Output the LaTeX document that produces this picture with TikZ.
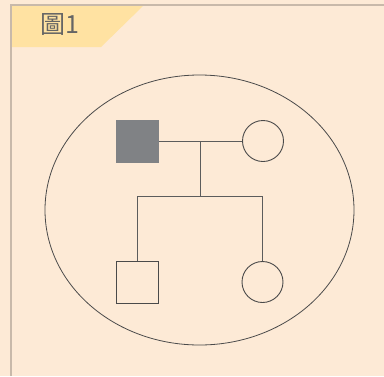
\documentclass[tikz,border=0pt]{standalone}
\usepackage{fontspec}
\newfontfamily\cjktc{Noto Sans CJK TC}
\usepackage{tikz}
\usetikzlibrary{shapes.geometric}
\definecolor{peach}{HTML}{FDEAD6}
\definecolor{tabgold}{HTML}{FFE2A2}
\definecolor{rim}{HTML}{C8B9AA}
\definecolor{ink}{HTML}{4A4A4A}
\definecolor{affected}{HTML}{808285}
\tikzset{
  male/.style={rectangle, draw=ink, line width=0.9pt, minimum size=42pt, inner sep=0pt},
  female/.style={circle, draw=ink, line width=0.9pt, minimum size=41pt, inner sep=0pt},
  kin/.style={line width=0.9pt, draw=ink!90},
}

\begin{document}
\begin{tikzpicture}[x=1pt, y=-1pt]
    \fill[peach] (0,0) rectangle (384,376);
    \useasboundingbox (0,0) rectangle (384,376);
    \fill[tabgold] (12,6) -- (143,6) -- (101,47) -- (12,47) -- cycle;
    \draw[rim, line width=1.4pt] (11,376) -- (11,5) -- (384,5);
    \node[anchor=base west, inner sep=0pt, text=ink!85, font=\cjktc\fontsize{25}{25}\selectfont]
      (title) at (40,33) {圖1};
    \node[ellipse, draw=ink, line width=0.8pt, minimum width=309pt, minimum height=270pt]
      (family) at (199.5,210) {};
    \node[male, fill=affected, draw=affected] (father) at (137.5,141) {};
    \node[female] (mother) at (263,141) {};
    \node[male] (son) at (137.5,282) {};
    \node[female] (daughter) at (262.5,282) {};
    \coordinate (union) at (200,141);
    \coordinate (sibs) at (200,196);
    \coordinate (sibl) at (137.5,196);
    \coordinate (sibr) at (262.5,196);
    \draw[kin] (father) -- (mother); \draw[kin] (union) -- (sibs);
    \draw[kin] (sibl) -- (sibr);
    \draw[kin] (sibl) -- (son.north); \draw[kin] (sibr) -- (daughter.north);
  \end{tikzpicture}
\end{document}
